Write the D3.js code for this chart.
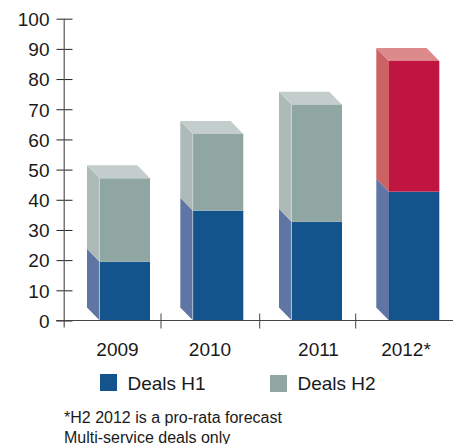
<!DOCTYPE html>
<html><head><meta charset="utf-8">
<script src="https://cdn.jsdelivr.net/npm/d3@7"></script>
<style>html,body{margin:0;padding:0;background:#fff}svg{display:block}
text{font-family:"Liberation Sans",Arial,sans-serif;fill:#1a1a1a}</style></head>
<body><svg id="c" width="457" height="444"></svg>
<script>
const years = ["2009","2010","2011","2012*"];
const dealsH1 = [19.5,36.4,32.7,42.7];
const dealsH2 = [27.6,25.4,38.8,43.3];
const forecastH2 = [false,false,false,true];
const yTicks = d3.range(0,101,10);
const notes = ["*H2 2012 is a pro-rata forecast","Multi-service deals only"];
const legendLabels = ["Deals H1","Deals H2"];

const svg = d3.select("#c");
const y = d3.scaleLinear().domain([0,100]).range([320.5,18.7]);
const barX = d3.scaleOrdinal().domain(years).range([99.7,193,291.7,389]);
const labelX = d3.scaleOrdinal().domain(years).range([117.5,210,318.5,406]);
const barW = 50.3, dx = 12.7, dy = 13;

const pal = {
  h1:{front:"#14548c",side:"#5f76a4"},
  h2:{front:"#90a6a2",side:"#adbab8",top:"#c3cdcb"},
  fc:{front:"#c01540",side:"#cd6264",top:"#dc8a8c"}
};

// axes
const yAxis = d3.axisLeft(y).tickValues(yTicks).tickSize(0).tickPadding(15);
const gy = svg.append("g").attr("transform","translate(64.5,0)").call(yAxis);
gy.select(".domain").remove();
gy.selectAll("text").style("font-size","19px").attr("dy","0.36em");
gy.selectAll(".tick line").attr("x1",-8).attr("x2",8).attr("stroke","#222").attr("stroke-width",1);

const poly = (pts,fill)=>svg.append("polygon").attr("points",pts.map(p=>p.join(",")).join(" ")).attr("fill",fill);

years.forEach((yr,i)=>{
  const x0 = barX(yr), x1 = x0+barW;
  const yBase = y(0), yMid = y(dealsH1[i]), yTop = y(dealsH1[i]+dealsH2[i]);
  const c2 = forecastH2[i] ? pal.fc : pal.h2;
  poly([[x0-dx,yBase-dy],[x0,yBase],[x0,yMid],[x0-dx,yMid-dy]],pal.h1.side);
  poly([[x0-dx,yMid-dy],[x0,yMid],[x0,yTop],[x0-dx,yTop-dy]],c2.side);
  poly([[x0-dx,yTop-dy],[x1-dx,yTop-dy],[x1,yTop],[x0,yTop]],c2.top);
  svg.append("rect").attr("x",x0).attr("y",yMid).attr("width",barW).attr("height",yBase-yMid).attr("fill",pal.h1.front);
  svg.append("rect").attr("x",x0).attr("y",yTop).attr("width",barW).attr("height",yMid-yTop).attr("fill",c2.front);
  if(!forecastH2[i]) svg.append("line").attr("x1",x0-.3).attr("x2",x0-.3).attr("y1",yTop).attr("y2",yBase).attr("stroke","#d5dde3").attr("stroke-width",.7);
});

// axis lines
const line=(a,b,c,d,col,w)=>svg.append("line").attr("x1",a).attr("y1",b).attr("x2",c).attr("y2",d).attr("stroke",col).attr("stroke-width",w);
line(64.2,y(100),64.2,327.5,"#555",1.2);
line(56,y(0),453,y(0),"#444",1.2);
const sep = d3.scaleOrdinal().domain(years.slice(1)).range([161,259.7,355.7]);
years.slice(1).forEach(yr=>line(sep(yr),313.5,sep(yr),328.5,"#444",1));

svg.selectAll(".xl").data(years).join("text").attr("class","xl")
  .attr("x",d=>labelX(d)).attr("y",356).attr("text-anchor","middle").style("font-size","19px").text(d=>d);

// legend
const legX = d3.scaleOrdinal().domain(legendLabels).range([100,270]);
const legY = d3.scaleOrdinal().domain(legendLabels).range([374,375]);
const legC = d3.scaleOrdinal().domain(legendLabels).range([pal.h1.front,pal.h2.front]);
legendLabels.forEach(l=>{
  svg.append("rect").attr("x",legX(l)).attr("y",legY(l)).attr("width",17).attr("height",17).attr("fill",legC(l));
  svg.append("text").attr("x",legX(l)+27.5).attr("y",390).style("font-size","19px").text(l);
});

svg.selectAll(".note").data(notes).join("text").attr("class","note")
  .attr("x",64).attr("y",(d,i)=>423+i*19.5).style("font-size","16px").text(d=>d);
</script></body></html>
